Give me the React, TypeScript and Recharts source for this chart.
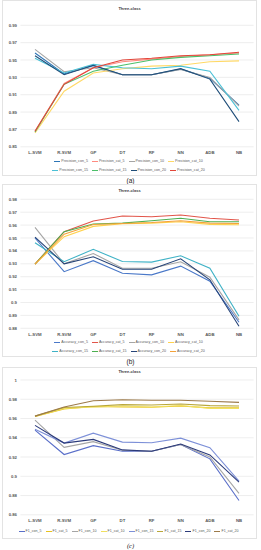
import { LineChart, Line, XAxis, YAxis, CartesianGrid } from 'recharts'

const categories = ['L-SVM', 'R-SVM', 'GP', 'DT', 'RF', 'NN', 'ADB', 'NB']

// (a) precision
const precisionCon5 = [0.958, 0.934, 0.9435, 0.933, 0.933, 0.9395, 0.929, 0.898]
const precisionCat5 = [0.868, 0.923, 0.941, 0.948, 0.951, 0.954, 0.956, 0.958]
const precisionCon10 = [0.9623, 0.9365, 0.941, 0.933, 0.933, 0.939, 0.930, 0.897]
const precisionCat10 = [0.866, 0.914, 0.935, 0.940, 0.943, 0.944, 0.948, 0.949]
const precisionCon15 = [0.952, 0.935, 0.945, 0.941, 0.940, 0.943, 0.937, 0.892]
const precisionCat15 = [0.867, 0.922, 0.937, 0.944, 0.950, 0.953, 0.955, 0.957]
const precisionCon20 = [0.955, 0.933, 0.944, 0.933, 0.933, 0.940, 0.928, 0.879]
const precisionCat20 = [0.868, 0.922, 0.941, 0.950, 0.952, 0.955, 0.956, 0.959]

// (b) accuracy
const accuracyCon5 = [0.950, 0.9239, 0.9324, 0.9227, 0.9214, 0.9282, 0.9165, 0.8847]
const accuracyCat5 = [0.9298, 0.9549, 0.9632, 0.967, 0.9665, 0.9678, 0.9653, 0.964]
const accuracyCon10 = [0.9582, 0.930, 0.938, 0.9266, 0.9266, 0.9316, 0.9196, 0.8865]
const accuracyCat10 = [0.9298, 0.951, 0.959, 0.961, 0.9615, 0.9626, 0.9606, 0.9603]
const accuracyCon15 = [0.9463, 0.9316, 0.9412, 0.9318, 0.9313, 0.9362, 0.9266, 0.8893]
const accuracyCat15 = [0.9298, 0.9549, 0.9609, 0.9615, 0.9634, 0.9653, 0.9626, 0.9626]
const accuracyCon20 = [0.9507, 0.930, 0.9355, 0.9258, 0.9258, 0.9339, 0.9176, 0.8816]
const accuracyCat20 = [0.9298, 0.953, 0.9605, 0.9612, 0.962, 0.9634, 0.9615, 0.9612]

// (c) F1
const f1Con5 = [0.948, 0.9226, 0.9318, 0.926, 0.926, 0.933, 0.9181, 0.8749]
const f1Cat5 = [0.962, 0.970, 0.9725, 0.972, 0.9717, 0.973, 0.971, 0.971]
const f1Con10 = [0.9584, 0.930, 0.936, 0.927, 0.926, 0.933, 0.920, 0.8823]
const f1Cat10 = [0.962, 0.9705, 0.972, 0.973, 0.972, 0.9735, 0.9705, 0.9705]
const f1Con15 = [0.9488, 0.9345, 0.9448, 0.9355, 0.9349, 0.9396, 0.9297, 0.895]
const f1Cat15 = [0.9625, 0.9715, 0.9727, 0.9744, 0.974, 0.975, 0.9734, 0.973]
const f1Con20 = [0.9529, 0.9345, 0.9383, 0.9274, 0.926, 0.9335, 0.9222, 0.894]
const f1Cat20 = [0.9625, 0.972, 0.9785, 0.9795, 0.979, 0.979, 0.978, 0.9768]

const precisionTicks = [0.85, 0.87, 0.89, 0.91, 0.93, 0.95, 0.97, 0.99]
const accuracyTicks = [0.88, 0.89, 0.9, 0.91, 0.92, 0.93, 0.94, 0.95, 0.96, 0.97, 0.98]
const f1Ticks = [0.86, 0.88, 0.9, 0.92, 0.94, 0.96, 0.98, 1]

type Series = { name: string; values: number[]; color: string }

const precisionSeries: Series[] = [
  { name: 'Precision_con_5', values: precisionCon5, color: '#2e75b6' },
  { name: 'Precision_cat_5', values: precisionCat5, color: '#ff8a80' },
  { name: 'Precision_con_10', values: precisionCon10, color: '#a5a5a5' },
  { name: 'Precision_cat_10', values: precisionCat10, color: '#ffd966' },
  { name: 'Precision_con_15', values: precisionCon15, color: '#4bc0d6' },
  { name: 'Precision_cat_15', values: precisionCat15, color: '#4cbf6a' },
  { name: 'Precision_con_20', values: precisionCon20, color: '#1f4e79' },
  { name: 'Precision_cat_20', values: precisionCat20, color: '#e2463a' },
]

const accuracySeries: Series[] = [
  { name: 'Accuracy_con_5', values: accuracyCon5, color: '#4a78c8' },
  { name: 'Accuracy_cat_5', values: accuracyCat5, color: '#e2554a' },
  { name: 'Accuracy_con_10', values: accuracyCon10, color: '#a5a5a5' },
  { name: 'Accuracy_cat_10', values: accuracyCat10, color: '#ffd24d' },
  { name: 'Accuracy_con_15', values: accuracyCon15, color: '#3fb2c6' },
  { name: 'Accuracy_cat_15', values: accuracyCat15, color: '#4caf50' },
  { name: 'Accuracy_con_20', values: accuracyCon20, color: '#264478' },
  { name: 'Accuracy_cat_20', values: accuracyCat20, color: '#f4a23a' },
]

const f1Series: Series[] = [
  { name: 'F1_con_5', values: f1Con5, color: '#5a6fc9' },
  { name: 'F1_cat_5', values: f1Cat5, color: '#e8c21e' },
  { name: 'F1_con_10', values: f1Con10, color: '#a5a5a5' },
  { name: 'F1_cat_10', values: f1Cat10, color: '#f0e060' },
  { name: 'F1_con_15', values: f1Con15, color: '#7d90d8' },
  { name: 'F1_cat_15', values: f1Cat15, color: '#b9a73a' },
  { name: 'F1_con_20', values: f1Con20, color: '#2b3a7a' },
  { name: 'F1_cat_20', values: f1Cat20, color: '#9c7a4a' },
]

const tickStyle = { fontSize: 4.3, fontWeight: 700, fill: '#595959', fontFamily: 'Liberation Sans' }

interface PanelProps {
  top: number
  height: number
  series: Series[]
  ticks: number[]
  margin: { top: number; right: number; bottom: number; left: number }
  titleTop: number
  legendTop: number
  perRow: number
  caption: string
  captionTop: number
  captionItalic?: boolean
}

function Panel({ top, height, series, ticks, margin, titleTop, legendTop, perRow, caption, captionTop, captionItalic }: PanelProps) {
  const data = categories.map((cat, i) => {
    const row: Record<string, string | number> = { cat }
    series.forEach((s) => (row[s.name] = s.values[i]))
    return row
  })
  const rows: Series[][] = []
  for (let i = 0; i < series.length; i += perRow) rows.push(series.slice(i, i + perRow))

  return (
    <>
      <div
        style={{
          position: 'absolute', left: 2, top, width: 255, height,
          border: '1px solid #e3e3e3', boxSizing: 'border-box', background: '#fff',
        }}
      />
      <div
        style={{
          position: 'absolute', left: 2, width: 255, top: top + titleTop - 3, textAlign: 'center',
          fontSize: 4, fontWeight: 700, color: '#404040', fontFamily: 'Liberation Sans', lineHeight: '6px',
        }}
      >
        Three-class
      </div>
      <div style={{ position: 'absolute', left: 2, top }}>
        <LineChart width={255} height={height} data={data} margin={margin}>
          <CartesianGrid vertical={false} stroke="#e6e6e6" strokeWidth={0.7} />
          <XAxis
            dataKey="cat"
            interval={0}
            tickSize={0}
            tickMargin={4.5}
            axisLine={false}
            height={12}
            padding={{ left: 14.6, right: 14.6 }}
            tick={tickStyle}
          />
          <YAxis
            domain={[ticks[0], ticks[ticks.length - 1]]}
            ticks={ticks}
            interval={0}
            width={18.4}
            tickSize={0}
            tickMargin={3.4}
            axisLine={false}
            tick={tickStyle}
            tickFormatter={(v: number) => String(+v.toFixed(2))}
          />
          {series.map((s) => (
            <Line
              key={s.name}
              dataKey={s.name}
              stroke={s.color}
              strokeWidth={1.1}
              dot={false}
              isAnimationActive={false}
            />
          ))}
        </LineChart>
      </div>
      <div style={{ position: 'absolute', left: 0, width: 261, top: top + legendTop }}>
        {rows.map((row, ri) => (
          <div key={ri} style={{ display: 'flex', justifyContent: 'center', height: 9, alignItems: 'center' }}>
            {row.map((s) => (
              <div key={s.name} style={{ display: 'flex', alignItems: 'center', marginRight: 4 }}>
                <div style={{ width: 6, height: 1, background: s.color, marginRight: 1 }} />
                <span style={{ fontSize: 3.6, color: '#595959', fontFamily: 'Liberation Sans', lineHeight: '5px' }}>
                  {s.name}
                </span>
              </div>
            ))}
          </div>
        ))}
      </div>
      <div
        style={{
          position: 'absolute', left: 0, width: 261, top: captionTop - 4, textAlign: 'center',
          fontSize: 6.5, lineHeight: '8px', color: '#222',
          fontFamily: captionItalic ? 'Liberation Serif' : 'Liberation Sans',
          fontStyle: captionItalic ? 'italic' : 'normal',
        }}
      >
        {caption}
      </div>
    </>
  )
}

export default function App() {
  return (
    <div style={{ position: 'relative', width: 261, height: 550, background: '#fff', overflow: 'hidden' }}>
      <style>{'body{margin:0}'}</style>
      <Panel
        top={0}
        height={176}
        series={precisionSeries}
        ticks={precisionTicks}
        margin={{ top: 25.3, right: 3.4, bottom: 17.2, left: 0 }}
        titleTop={9}
        legendTop={157}
        perRow={4}
        caption="(a)"
        captionTop={181}
      />
      <Panel
        top={184}
        height={173}
        series={accuracySeries}
        ticks={accuracyTicks}
        margin={{ top: 15.3, right: 3.4, bottom: 16.7, left: 0 }}
        titleTop={7}
        legendTop={154}
        perRow={4}
        caption="(b)"
        captionTop={362}
      />
      <Panel
        top={367}
        height={172}
        series={f1Series}
        ticks={f1Ticks}
        margin={{ top: 13, right: 3.4, bottom: 12.2, left: 0 }}
        titleTop={5}
        legendTop={159.5}
        perRow={8}
        caption="(c)"
        captionTop={546}
        captionItalic
      />
    </div>
  )
}
